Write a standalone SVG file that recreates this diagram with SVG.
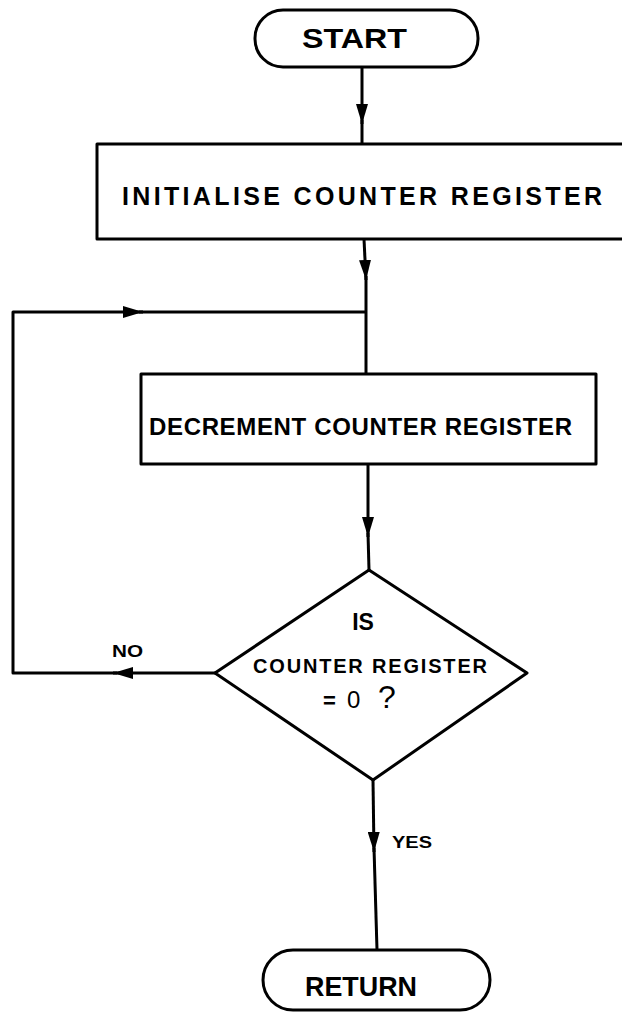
<svg xmlns="http://www.w3.org/2000/svg" width="622" height="1012" viewBox="0 0 622 1012">
<style>
.shape{fill:#fff;stroke:#000;stroke-width:3;stroke-linejoin:round}
.conn{fill:none;stroke:#000;stroke-width:3;stroke-linejoin:round}
.t{font-family:"Liberation Sans",Arial,sans-serif;fill:#000;font-weight:bold}
</style>
<defs>
<marker id="arr" viewBox="0 0 20 12" markerWidth="20" markerHeight="12" refX="20" refY="6" orient="auto" markerUnits="userSpaceOnUse">
<path d="M0,0 L20,6 L0,12 z" fill="#000"/>
</marker>
</defs>
<rect width="622" height="1012" fill="#fff"/>
<g id="connectors">
<path class="conn" d="M362 67 L362 124" marker-end="url(#arr)"/>
<path class="conn" d="M362 120 L362 144"/>
<path class="conn" d="M364 239 L366 280" marker-end="url(#arr)"/>
<path class="conn" d="M366 276 L366 374"/>
<path class="conn" d="M368 464 L368 537" marker-end="url(#arr)"/>
<path class="conn" d="M368 533 L369 570"/>
<path class="conn" d="M373 780 L374 852" marker-end="url(#arr)"/>
<path class="conn" d="M374 848 L377 950"/>
<path class="conn" d="M215 673 L113 673" marker-end="url(#arr)"/>
<path class="conn" d="M117 673 L13 673 L13 312 L143 312" marker-end="url(#arr)"/>
<path class="conn" d="M139 312 L366 312"/>
</g>
<g id="start">
<rect class="shape" x="255" y="10" width="223" height="57" rx="28" ry="28"/>
<text class="t" x="302" y="48" font-size="28" textLength="105" lengthAdjust="spacingAndGlyphs">START</text>
</g>
<g id="init">
<rect class="shape" x="97" y="144" width="530" height="95"/>
<text class="t" x="122" y="205" font-size="25" textLength="480" lengthAdjust="spacing">INITIALISE  COUNTER  REGISTER</text>
</g>
<g id="decrement">
<rect class="shape" x="141" y="374" width="455" height="90"/>
<text class="t" x="149" y="435" font-size="24" textLength="423" lengthAdjust="spacing">DECREMENT COUNTER  REGISTER</text>
</g>
<g id="decision">
<polygon class="shape" points="369,570 527,673 373,780 215,673"/>
<text class="t" x="363" y="630" font-size="23" text-anchor="middle">IS</text>
<text class="t" x="253" y="673" font-size="20" textLength="234" lengthAdjust="spacing">COUNTER  REGISTER</text>
<text class="t" x="323" y="708" font-size="22">= <tspan x="347" font-size="24" font-weight="normal">0</tspan><tspan x="378" font-size="32" font-weight="normal">?</tspan></text>
</g>
<g id="labels">
<text class="t" x="112" y="657" font-size="17" textLength="31" lengthAdjust="spacingAndGlyphs">NO</text>
<text class="t" x="392" y="848" font-size="17" textLength="40" lengthAdjust="spacingAndGlyphs">YES</text>
</g>
<g id="return">
<rect class="shape" x="263" y="950" width="227" height="60" rx="30" ry="30"/>
<text class="t" x="305" y="996" font-size="28" textLength="112" lengthAdjust="spacingAndGlyphs">RETURN</text>
</g>
</svg>
